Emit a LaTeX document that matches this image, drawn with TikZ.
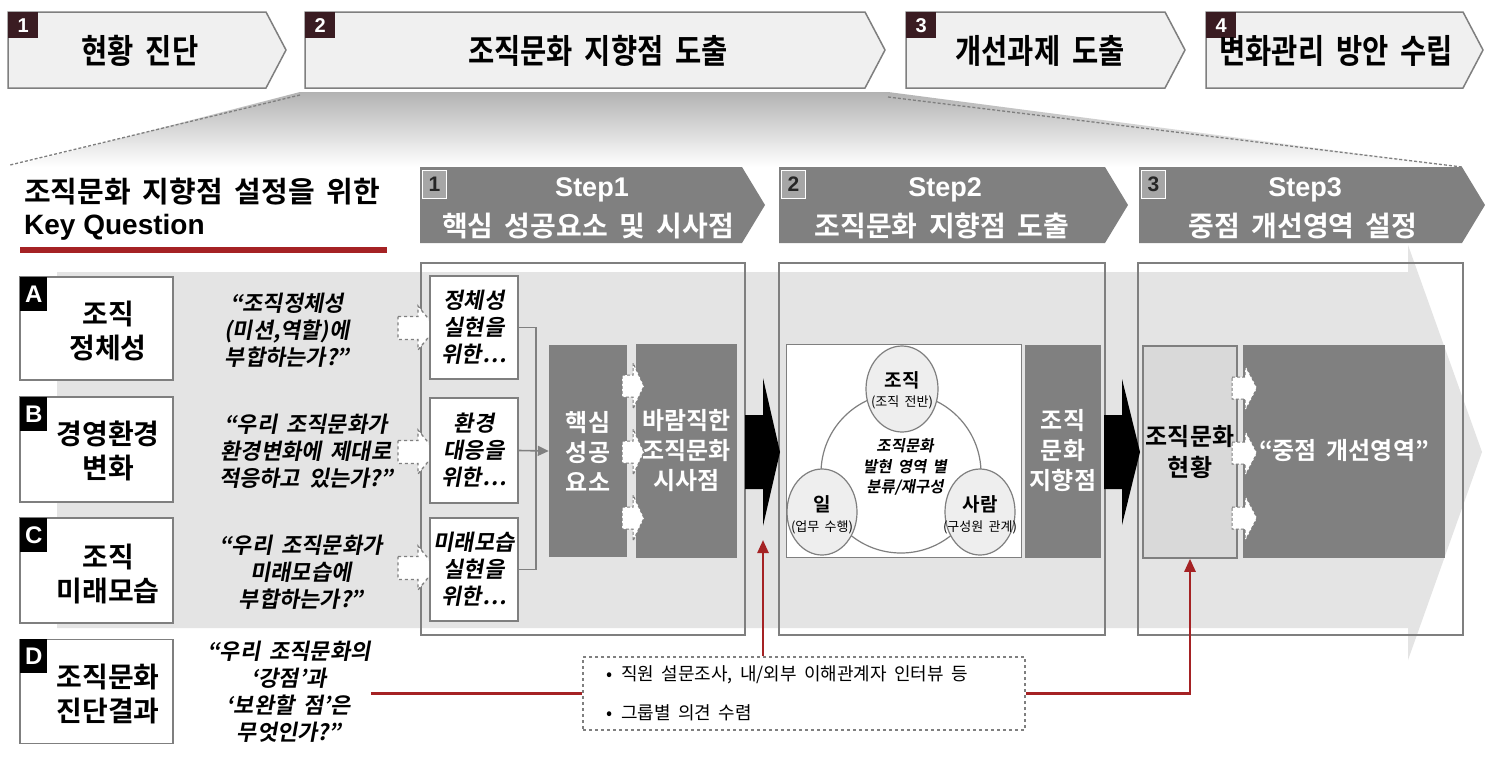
\documentclass[tikz,border=0pt]{standalone}
\usepackage{fontspec}
\setmainfont{Noto Sans CJK KR}[BoldFont={* Bold}, ItalicFont={*}, ItalicFeatures={FakeSlant=0.18}, BoldItalicFont={* Bold}, BoldItalicFeatures={FakeSlant=0.18}, WordSpace=1.8]
\newfontfamily\arialf{Liberation Sans}
\usetikzlibrary{arrows.meta,shapes.geometric}
\definecolor{chevc}{HTML}{F0F0F0}
\definecolor{bordc}{HTML}{7F7F7F}
\definecolor{numc}{HTML}{3A1C22}
\definecolor{stepc}{HTML}{808080}
\definecolor{stepnumc}{HTML}{A6A6A6}
\definecolor{bandc}{HTML}{E4E4E4}
\definecolor{redc}{HTML}{A52224}
\definecolor{curc}{HTML}{D9D9D9}
\definecolor{ellc}{HTML}{EEEEEE}
\newcommand{\fsz}[2]{\fontsize{#1}{#2}\selectfont}
\newcommand{\tallt}[1]{\scalebox{0.92}[1.08]{#1}}
\newcommand{\blkarr}[7]{\path[#1] (#2,#3-#5) -- (#4,#3-#5) -- (#4,#3-#6) -- (#7,#3) -- (#4,#3+#6) -- (#4,#3+#5) -- (#2,#3+#5) -- cycle;}
\begin{document}
\begin{tikzpicture}[x=1pt,y=-1pt,
  chev/.style={fill=chevc, draw=bordc, line width=1.5pt},
  numsq/.style={fill=numc, text=white, font=\arialf\bfseries\fsz{20}{20}, minimum width=30pt, minimum height=26pt, inner sep=0pt, anchor=north west},
  toptxt/.style={font=\bfseries\fsz{31}{31}, text=black, inner sep=0pt},
  stepnum/.style={fill=stepnumc, draw=white, line width=1pt, text=black!85, font=\arialf\bfseries\fsz{21}{21}, minimum width=24pt, minimum height=28pt, inner sep=0pt, anchor=north west},
  steptop/.style={font=\arialf\bfseries\fsz{27}{27}, text=white, inner sep=0pt},
  stepbot/.style={font=\bfseries\fsz{28}{28}, text=white, inner sep=0pt},
  stepbox/.style={draw=bordc, line width=1.8pt},
  lbox/.style={draw=bordc, fill=white, line width=1.8pt, minimum width=153pt, inner sep=0pt},
  letbox/.style={fill=black, text=white, font=\arialf\bfseries\fsz{24}{24}, minimum width=27pt, minimum height=34pt, inner sep=0pt, anchor=north west},
  ltxt/.style={font=\bfseries\fsz{28}{34}, align=center, inner sep=0pt, text=black},
  quote/.style={font=\bfseries\itshape\fsz{22}{27}, align=center, inner sep=0pt, text=black},
  sbox/.style={draw=bordc, fill=white, line width=1.8pt, minimum width=88pt, font=\bfseries\itshape\fsz{22}{27}, align=center, inner sep=0pt},
  gblock/.style={fill=stepc, text=white, font=\bfseries\fsz{24}{30}, align=center, inner sep=0pt},
  gline/.style={draw=stepc, line width=1.6pt},
  dasharr/.style={draw=bordc, fill=white, dashed, line width=1.3pt},
  wdash/.style={draw=bordc, fill=white, dash pattern=on 3pt off 2pt, line width=1pt},
  ell/.style={draw=bordc, fill=ellc, line width=1.2pt},
  redl/.style={draw=redc, line width=2.5pt},
  reda/.style={draw=redc, line width=2.5pt, -{Triangle[length=13pt,width=11pt]}}
]
\useasboundingbox (0,0) rectangle (1485,758);
\fill[white] (0,0) rectangle (1485,758);

% funnel
\shade[top color=gray!60, bottom color=white] (300,92) -- (888,92) -- (1462,167) -- (10,167) -- cycle;
\draw[bordc, dash pattern=on 3pt off 2pt, line width=1.3pt] (300,95) -- (10,165);
\draw[bordc, dash pattern=on 3pt off 2pt, line width=1.3pt] (888,97) -- (1462,167);

% top chevrons
\draw[chev] (8,12) -- (266,12) -- (286,50) -- (266,88) -- (8,88) -- cycle;
\draw[chev] (305,12) -- (865,12) -- (885,50) -- (865,88) -- (305,88) -- cycle;
\draw[chev] (906,12) -- (1165,12) -- (1185,50) -- (1165,88) -- (906,88) -- cycle;
\draw[chev] (1206,12) -- (1463,12) -- (1483,50) -- (1463,88) -- (1206,88) -- cycle;
\node[numsq] (n1) at (8,12) {1};
\node[numsq] (n2) at (305,12) {2};
\node[numsq] (n3) at (906,12) {3};
\node[numsq] (n4) at (1206,12) {4};
\node[toptxt] (t1) at (140,51) {\tallt{현황 진단}};
\node[toptxt] (t2) at (598,51) {\tallt{조직문화 지향점 도출}};
\node[toptxt] (t3) at (1040,51) {\tallt{개선과제 도출}};
\node[toptxt] (t4) at (1336,51) {\tallt{변화관리 방안 수립}};

% big band arrow
\fill[bandc] (57,272) -- (1408,272) -- (1408,245) -- (1482,452) -- (1408,660) -- (1408,628) -- (57,628) -- cycle;

% title
\node[anchor=west, font=\bfseries\fsz{29}{29}, inner sep=0pt] (ttl) at (24,192) {조직문화 지향점 설정을 위한};
\node[anchor=west, font=\arialf\bfseries\fsz{28}{28}, inner sep=0pt] (kq) at (24,227) {Key Question};
\draw[redc, line width=6pt] (20,250) -- (387,250);

% step headers
\fill[stepc] (420,167) -- (742,167) -- (765,205) -- (742,243) -- (420,243) -- cycle;
\fill[stepc] (779,167) -- (1105,167) -- (1128,205) -- (1105,243) -- (779,243) -- cycle;
\fill[stepc] (1139,167) -- (1462,167) -- (1485,205) -- (1462,243) -- (1139,243) -- cycle;
\node[stepnum] (sn1) at (422,170) {1};
\node[stepnum] (sn2) at (781,170) {2};
\node[stepnum] (sn3) at (1141,170) {3};
\node[steptop] (st1) at (592,190) {Step1};
\node[stepbot] (sb1) at (588,226) {핵심 성공요소 및 시사점};
\node[steptop] (st2) at (945,190) {Step2};
\node[stepbot] (sb2) at (942,226) {조직문화 지향점 도출};
\node[steptop] (st3) at (1305,190) {Step3};
\node[stepbot] (sb3) at (1303,226) {중점 개선영역 설정};

% step boxes
\draw[stepbox] (421,263) rectangle (745,635);
\draw[stepbox] (779,263) rectangle (1105,635);
\draw[stepbox] (1138,263) rectangle (1463,635);

% left boxes
\node[lbox, minimum height=103pt] (bA) at (96.5,328.5) {};
\node[lbox, minimum height=105pt] (bB) at (96.5,449.5) {};
\node[lbox, minimum height=105pt] (bC) at (96.5,570.5) {};
\node[lbox, minimum height=104pt] (bD) at (96.5,691.5) {};
\node[letbox] (lA) at (20,277) {A};
\node[letbox] (lB) at (20,397) {B};
\node[letbox] (lC) at (20,518) {C};
\node[letbox] (lD) at (20,639) {D};
\node[ltxt] (xA) at (108,331) {조직\\정체성};
\node[ltxt] (xB) at (108,451) {경영환경\\변화};
\node[ltxt] (xC) at (108,574) {조직\\미래모습};
\node[ltxt] (xD) at (108,694) {조직문화\\진단결과};

% quotes
\node[quote] (qA) at (287,330) {“조직정체성\\(미션,역할)에\\부합하는가?”};
\node[quote] (qB) at (306,451) {“우리 조직문화가\\환경변화에 제대로\\적응하고 있는가?”};
\node[quote] (qC) at (301,572) {“우리 조직문화가\\미래모습에\\부합하는가?”};
\node[quote] (qD) at (289,692) {“우리 조직문화의\\‘강점’과\\‘보완할 점’은\\무엇인가?”};

% left dashed arrows
\blkarr{dasharr}{398}{328}{418}{11.5}{22}{436}
\blkarr{dasharr}{398}{452}{418}{11.5}{22}{436}
\blkarr{dasharr}{398}{568}{418}{11.5}{22}{436}

% step1 content
\node[sbox, minimum height=103pt] (s1) at (474,327.5) {정체성\\실현을\\위한…};
\node[sbox, minimum height=105pt] (s2) at (474,450.5) {환경\\대응을\\위한…};
\node[sbox, minimum height=103pt] (s3) at (474,569.5) {미래모습\\실현을\\위한…};
\node[gblock, minimum width=78pt, minimum height=212pt] (ksf) at (588,451) {핵심\\성공\\요소};
\node[gblock, minimum width=101pt, minimum height=214pt] (imp) at (686.5,451) {바람직한\\조직문화\\시사점};
\draw[gline] (s1.east) -- ++(17,0) |- (s3.east);
\draw[gline, -{Triangle[length=11pt,width=10pt]}] (s2.east) -- (ksf.west);
\blkarr{wdash}{622}{386}{633}{11}{23}{644}
\blkarr{wdash}{622}{452}{633}{11}{23}{644}
\blkarr{wdash}{622}{518}{633}{11}{23}{644}

% black arrows
\blkarr{fill=black}{745}{452}{763}{37}{74}{780}
\blkarr{fill=black}{1104}{452}{1122}{37}{73}{1140}

% step2 content
\node[draw=bordc, fill=white, line width=1.5pt, minimum width=235pt, minimum height=213pt, inner sep=0pt] (wbox) at (904,451) {};
\draw[bordc, line width=1.2pt] (901,473) circle (80);
\node[ell, ellipse, minimum width=72pt, minimum height=86pt, inner sep=0pt] (eTop) at (902,389) {};
\node[ell, ellipse, minimum width=70pt, minimum height=86pt, inner sep=0pt] (eL) at (822,512) {};
\node[ell, ellipse, minimum width=70pt, minimum height=86pt, inner sep=0pt] (eR) at (980,512) {};
\node[font=\bfseries\fsz{19}{19}, inner sep=0pt] (tTop) at (902,380) {조직};
\node[font=\fsz{13}{13}, inner sep=0pt] (tTop2) at (902,402) {(조직 전반)};
\node[font=\bfseries\fsz{19}{19}, inner sep=0pt] (tL) at (822,504) {일};
\node[font=\fsz{13}{13}, inner sep=0pt] (tL2) at (822,527) {(업무 수행)};
\node[font=\bfseries\fsz{19}{19}, inner sep=0pt] (tR) at (980,504) {사람};
\node[font=\fsz{13}{13}, inner sep=0pt] (tR2) at (980,527) {(구성원 관계)};
\node[font=\bfseries\itshape\fsz{15.5}{20.5}, align=center, inner sep=0pt] (tC) at (905,467) {조직문화\\발현 영역 별\\분류/재구성};
\node[gblock, minimum width=76pt, minimum height=213pt] (goal) at (1063,451) {조직\\문화\\지향점};

% step3 content
\node[draw=bordc, fill=curc, line width=1.5pt, minimum width=94pt, minimum height=212pt, inner sep=0pt, font=\bfseries\fsz{24}{31}, align=center] (cur) at (1190,452) {조직문화\\현황};
\node[gblock, minimum width=202pt, minimum height=213pt] (focus) at (1344,451) {“중점 개선영역”};
\blkarr{wdash}{1232}{388}{1245}{11}{23}{1257}
\blkarr{wdash}{1232}{453}{1245}{11}{23}{1257}
\blkarr{wdash}{1232}{518}{1245}{11}{23}{1257}

% source box
\node[draw=bordc, dashed, line width=1.5pt, fill=white, minimum width=442pt, minimum height=73pt, inner sep=0pt] (src) at (804,693.5) {};
\node[anchor=west, font=\fsz{18}{18}, inner sep=0pt] (b1) at (606,675) {•\hspace{9pt}직원 설문조사, 내/외부 이해관계자 인터뷰 등};
\node[anchor=west, font=\fsz{18}{18}, inner sep=0pt] (b2) at (606,713) {•\hspace{9pt}그룹별 의견 수렴};
\coordinate (tip1) at (763,540);

% red connectors
\draw[redl] (qD.east |- src.west) -- (src.west);
\draw[reda] (tip1 |- src.north) -- (tip1);
\draw[reda] (src.east) -| (cur.south);
\end{tikzpicture}
\end{document}
